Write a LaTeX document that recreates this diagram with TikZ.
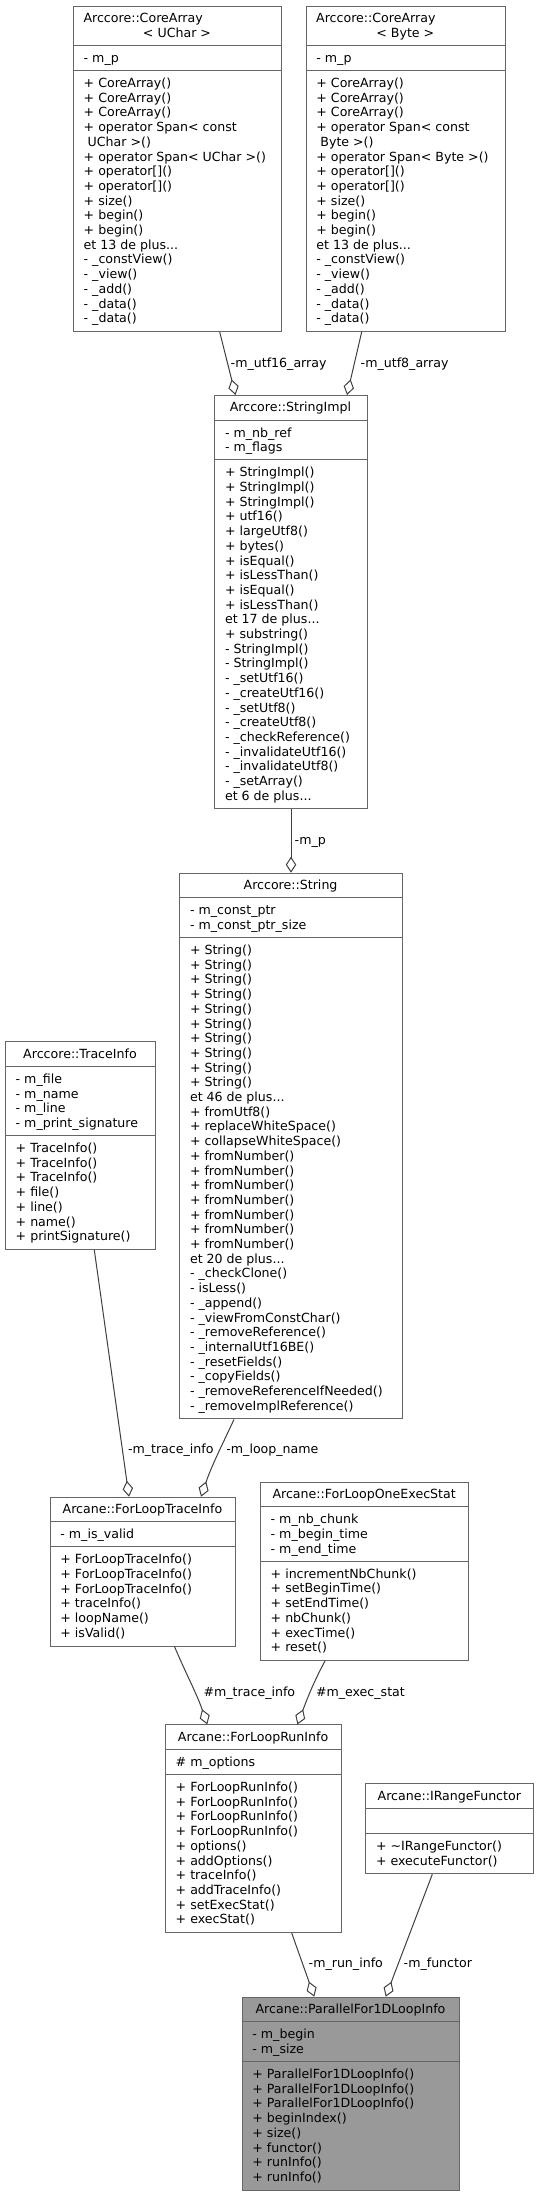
\documentclass[tikz,border=0pt]{standalone}
\usepackage{fontspec}
\setmainfont{DejaVu Sans}
\usetikzlibrary{arrows.meta}
\definecolor{boxgray}{HTML}{666666}
\definecolor{edgegray}{HTML}{404040}
\definecolor{focusgray}{HTML}{999999}
\newcommand\umlfont{\fontsize{12.6pt}{14.7pt}\selectfont}
\newcommand\lnstrut{\rule[-3pt]{0pt}{14.7pt}}
\newcommand\cmp[1]{\lnstrut#1\lnstrut}
\tikzset{
  classbox/.style={draw=boxgray, line width=1pt, anchor=north west, inner sep=0pt, fill=white},
  focusbox/.style={classbox, fill=focusgray},
  divider/.style={draw=boxgray, line width=1pt},
  ttl/.style={anchor=center, align=center, inner sep=0pt, font=\umlfont},
  cmpt/.style={anchor=west, align=left, inner sep=0pt, font=\umlfont},
  lbl/.style={anchor=west, inner sep=0pt, font=\umlfont},
  assoc/.style={draw=edgegray, line width=1pt, -{Diamond[open, length=16pt, width=10.5pt]}},
}
\begin{document}
\begin{tikzpicture}[x=1pt, y=-1pt]
\fill[white] (0,0) rectangle (539,2196);
\useasboundingbox (0,0) rectangle (539,2196);

% ---------- Arccore::CoreArray< UChar >
\node[classbox, minimum width=208pt, minimum height=325.2pt] (ua) at (73,5.7) {};
\draw[divider] (73,45.5) -- (281,45.5);
\draw[divider] (73,70.6) -- (281,70.6);
\node[ttl] (ua-t) at (177,25.6) {\cmp{\makebox[187pt][l]{Arccore::CoreArray}\\\makebox[187pt][c]{< UChar >}}};
\node[cmpt] (ua-a) at (83.5,58.05) {\cmp{- m\_p}};
\node[cmpt] (ua-m) at (83.5,200.75) {\cmp{+ CoreArray()\\+ CoreArray()\\+ CoreArray()\\+ operator Span< const\\\hspace*{4pt}UChar >()\\+ operator Span< UChar >()\\+ operator[]()\\+ operator[]()\\+ size()\\+ begin()\\+ begin()\\et 13 de plus...\\- \_constView()\\- \_view()\\- \_add()\\- \_data()\\- \_data()}};

% ---------- Arccore::CoreArray< Byte >
\node[classbox, minimum width=199.3pt, minimum height=325.2pt] (ba) at (305.7,5.7) {};
\draw[divider] (305.7,45.5) -- (505,45.5);
\draw[divider] (305.7,70.6) -- (505,70.6);
\node[ttl] (ba-t) at (405.35,25.6) {\cmp{\makebox[178.3pt][l]{Arccore::CoreArray}\\\makebox[178.3pt][c]{< Byte >}}};
\node[cmpt] (ba-a) at (316.2,58.05) {\cmp{- m\_p}};
\node[cmpt] (ba-m) at (316.2,200.75) {\cmp{+ CoreArray()\\+ CoreArray()\\+ CoreArray()\\+ operator Span< const\\\hspace*{4pt}Byte >()\\+ operator Span< Byte >()\\+ operator[]()\\+ operator[]()\\+ size()\\+ begin()\\+ begin()\\et 13 de plus...\\- \_constView()\\- \_view()\\- \_add()\\- \_data()\\- \_data()}};

% ---------- Arccore::StringImpl
\node[classbox, minimum width=152.4pt, minimum height=413.4pt] (si) at (214.3,395) {};
\draw[divider] (214.3,420.1) -- (366.7,420.1);
\draw[divider] (214.3,459.9) -- (366.7,459.9);
\node[ttl] (si-t) at (290.5,407.55) {\cmp{Arccore::StringImpl}};
\node[cmpt] (si-a) at (224.8,440) {\cmp{- m\_nb\_ref\\- m\_flags}};
\node[cmpt] (si-m) at (224.8,634.15) {\cmp{+ StringImpl()\\+ StringImpl()\\+ StringImpl()\\+ utf16()\\+ largeUtf8()\\+ bytes()\\+ isEqual()\\+ isLessThan()\\+ isEqual()\\+ isLessThan()\\et 17 de plus...\\+ substring()\\- StringImpl()\\- StringImpl()\\- \_setUtf16()\\- \_createUtf16()\\- \_setUtf8()\\- \_createUtf8()\\- \_checkReference()\\- \_invalidateUtf16()\\- \_invalidateUtf8()\\- \_setArray()\\et 6 de plus...}};

% ---------- Arccore::String
\node[classbox, minimum width=222.5pt, minimum height=545.7pt] (st) at (179.3,872.7) {};
\draw[divider] (179.3,897.8) -- (401.8,897.8);
\draw[divider] (179.3,937.6) -- (401.8,937.6);
\node[ttl] (st-t) at (290.55,885.25) {\cmp{Arccore::String}};
\node[cmpt] (st-a) at (189.8,917.7) {\cmp{- m\_const\_ptr\\- m\_const\_ptr\_size}};
\node[cmpt] (st-m) at (189.8,1178) {\cmp{+ String()\\+ String()\\+ String()\\+ String()\\+ String()\\+ String()\\+ String()\\+ String()\\+ String()\\+ String()\\et 46 de plus...\\+ fromUtf8()\\+ replaceWhiteSpace()\\+ collapseWhiteSpace()\\+ fromNumber()\\+ fromNumber()\\+ fromNumber()\\+ fromNumber()\\+ fromNumber()\\+ fromNumber()\\+ fromNumber()\\et 20 de plus...\\- \_checkClone()\\- isLess()\\- \_append()\\- \_viewFromConstChar()\\- \_removeReference()\\- \_internalUtf16BE()\\- \_resetFields()\\- \_copyFields()\\- \_removeReferenceIfNeeded()\\- \_removeImplReference()}};

% ---------- Arccore::TraceInfo
\node[classbox, minimum width=150pt, minimum height=207.6pt] (ti) at (5,1041.3) {};
\draw[divider] (5,1066.4) -- (155,1066.4);
\draw[divider] (5,1135.6) -- (155,1135.6);
\node[ttl] (ti-t) at (80,1053.85) {\cmp{Arccore::TraceInfo}};
\node[cmpt] (ti-a) at (15.5,1101) {\cmp{- m\_file\\- m\_name\\- m\_line\\- m\_print\_signature}};
\node[cmpt] (ti-m) at (15.5,1192.25) {\cmp{+ TraceInfo()\\+ TraceInfo()\\+ TraceInfo()\\+ file()\\+ line()\\+ name()\\+ printSignature()}};

% ---------- Arcane::ForLoopTraceInfo
\node[classbox, minimum width=185.6pt, minimum height=148.8pt] (fti) at (49.7,1496.7) {};
\draw[divider] (49.7,1521.8) -- (235.3,1521.8);
\draw[divider] (49.7,1546.9) -- (235.3,1546.9);
\node[ttl] (fti-t) at (142.5,1509.25) {\cmp{Arcane::ForLoopTraceInfo}};
\node[cmpt] (fti-a) at (60.2,1534.35) {\cmp{- m\_is\_valid}};
\node[cmpt] (fti-m) at (60.2,1596.2) {\cmp{+ ForLoopTraceInfo()\\+ ForLoopTraceInfo()\\+ ForLoopTraceInfo()\\+ traceInfo()\\+ loopName()\\+ isValid()}};

% ---------- Arcane::ForLoopOneExecStat
\node[classbox, minimum width=208.3pt, minimum height=178.2pt] (fes) at (260,1481.7) {};
\draw[divider] (260,1506.8) -- (468.3,1506.8);
\draw[divider] (260,1561.3) -- (468.3,1561.3);
\node[ttl] (fes-t) at (364.15,1494.25) {\cmp{Arcane::ForLoopOneExecStat}};
\node[cmpt] (fes-a) at (270.5,1534.05) {\cmp{- m\_nb\_chunk\\- m\_begin\_time\\- m\_end\_time}};
\node[cmpt] (fes-m) at (270.5,1610.6) {\cmp{+ incrementNbChunk()\\+ setBeginTime()\\+ setEndTime()\\+ nbChunk()\\+ execTime()\\+ reset()}};

% ---------- Arcane::ForLoopRunInfo
\node[classbox, minimum width=176.3pt, minimum height=207.6pt] (fri) at (165,1724.4) {};
\draw[divider] (165,1749.5) -- (341.3,1749.5);
\draw[divider] (165,1774.6) -- (341.3,1774.6);
\node[ttl] (fri-t) at (253.15,1736.95) {\cmp{Arcane::ForLoopRunInfo}};
\node[cmpt] (fri-a) at (175.5,1762.05) {\cmp{\# m\_options}};
\node[cmpt] (fri-m) at (175.5,1853.3) {\cmp{+ ForLoopRunInfo()\\+ ForLoopRunInfo()\\+ ForLoopRunInfo()\\+ ForLoopRunInfo()\\+ options()\\+ addOptions()\\+ traceInfo()\\+ addTraceInfo()\\+ setExecStat()\\+ execStat()}};

% ---------- Arcane::IRangeFunctor
\node[classbox, minimum width=168pt, minimum height=90pt] (irf) at (365.3,1783.3) {};
\draw[divider] (365.3,1808.4) -- (533.3,1808.4);
\draw[divider] (365.3,1833.5) -- (533.3,1833.5);
\node[ttl] (irf-t) at (449.3,1795.85) {\cmp{Arcane::IRangeFunctor}};
\node[cmpt] (irf-m) at (375.8,1853.4) {\cmp{+ \textasciitilde{}IRangeFunctor()\\+ executeFunctor()}};

% ---------- Arcane::ParallelFor1DLoopInfo
\node[focusbox, minimum width=217.6pt, minimum height=192.9pt] (pf) at (241.7,1996.7) {};
\draw[divider] (241.7,2021.8) -- (459.3,2021.8);
\draw[divider] (241.7,2061.6) -- (459.3,2061.6);
\node[ttl] (pf-t) at (350.5,2009.25) {\cmp{Arcane::ParallelFor1DLoopInfo}};
\node[cmpt] (pf-a) at (252.2,2041.7) {\cmp{- m\_begin\\- m\_size}};
\node[cmpt] (pf-m) at (252.2,2125.6) {\cmp{+ ParallelFor1DLoopInfo()\\+ ParallelFor1DLoopInfo()\\+ ParallelFor1DLoopInfo()\\+ beginIndex()\\+ size()\\+ functor()\\+ runInfo()\\+ runInfo()}};

% ---------- connectors
\draw[assoc] ([xshift=146.7pt]ua.south west) -- ([xshift=21.2pt]si.north west);
\draw[assoc] ([xshift=56pt]ba.south west) -- ([xshift=132.7pt]si.north west);
\draw[assoc] (si.south) -- (si.south |- st.north);
\draw[assoc] ([xshift=89.3pt]ti.south west) -- ([xshift=79.3pt]fti.north west);
\draw[assoc] ([xshift=54.7pt]st.south west) to[out=245, in=71] ([xshift=151.3pt]fti.north west);
\draw[assoc] ([xshift=124.8pt]fti.south west) to[out=293, in=109] ([xshift=42.3pt]fri.north west);
\draw[assoc] ([xshift=65pt]fes.south west) to[out=242, in=69] ([xshift=132.4pt]fri.north west);
\draw[assoc] ([xshift=126.7pt]fri.south west) -- ([xshift=72.6pt]pf.north west);
\draw[assoc] ([xshift=67pt]irf.south west) -- ([xshift=144pt]pf.north west);

% ---------- connector labels
\node[lbl] (l-utf16) at (230.5,363) {\cmp{-m\_utf16\_array}};
\node[lbl] (l-utf8) at (360.5,363) {\cmp{-m\_utf8\_array}};
\node[lbl] (l-mp) at (294.5,840) {\cmp{-m\_p}};
\node[lbl] (l-trace) at (127.8,1449) {\cmp{-m\_trace\_info}};
\node[lbl] (l-loop) at (226.2,1449) {\cmp{-m\_loop\_name}};
\node[lbl] (l-ptrace) at (203.4,1691.7) {\cmp{\#m\_trace\_info}};
\node[lbl] (l-exec) at (315.8,1691.7) {\cmp{\#m\_exec\_stat}};
\node[lbl] (l-run) at (308.5,1963.3) {\cmp{-m\_run\_info}};
\node[lbl] (l-functor) at (403.5,1963.3) {\cmp{-m\_functor}};
\end{tikzpicture}
\end{document}
